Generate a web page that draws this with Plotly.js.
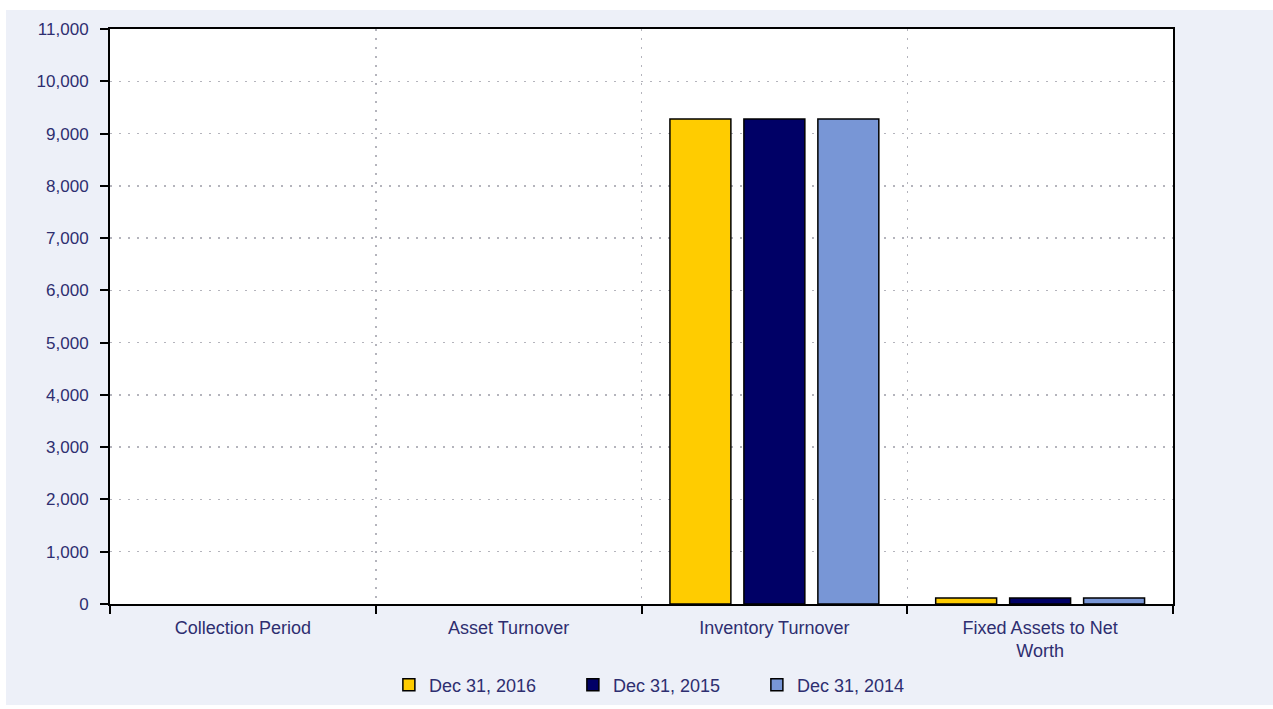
<!DOCTYPE html>
<html>
<head>
<meta charset="utf-8">
<script src="https://cdn.plot.ly/plotly-3.0.1.min.js"></script>
<style>
  html, body { margin: 0; padding: 0; background: #ffffff; }
  #chart { position: absolute; left: 6px; top: 10px; width: 1267px; height: 695px; }
</style>
</head>
<body>
<div id="chart"></div>
<script>
// ---- Data ----
var categories = ["Collection Period", "Asset Turnover", "Inventory Turnover", "Fixed Assets to Net<br>Worth"];
var seriesNames = ["Dec 31, 2016", "Dec 31, 2015", "Dec 31, 2014"];
var values2016 = [null, null, 9280, 115];
var values2015 = [null, null, 9280, 115];
var values2014 = [null, null, 9280, 115];
var yTickVals = [0, 1000, 2000, 3000, 4000, 5000, 6000, 7000, 8000, 9000, 10000, 11000];

// ---- Styles ----
var colors = ["#FFCC00", "#000066", "#7896D6"];
var textColor = "#2E2E70";
var allValues = [values2016, values2015, values2014];

var traces = seriesNames.map(function (name, i) {
  return {
    type: "bar",
    name: name,
    x: categories,
    y: allValues[i],
    marker: { color: colors[i], line: { color: "#000000", width: 1.5 } },
    hoverinfo: "x+y+name"
  };
});

var layout = {
  width: 1267,
  height: 695,
  paper_bgcolor: "#EDF0F8",
  plot_bgcolor: "#FFFFFF",
  margin: { l: 104, r: 100, t: 19, b: 101, autoexpand: false },
  barmode: "group",
  bargap: 0.165,
  bargroupgap: 0.176,
  font: { family: "Liberation Sans, Arial, sans-serif", size: 17, color: textColor },
  showlegend: true,
  legend: {
    orientation: "h",
    x: 0.522,
    xanchor: "center",
    y: -0.141,
    yanchor: "middle",
    entrywidth: 139,
    entrywidthmode: "pixels",
    font: { size: 18, color: textColor },
    bgcolor: "rgba(0,0,0,0)",
    traceorder: "normal"
  },
  xaxis: {
    type: "category",
    tickson: "boundaries",
    ticks: "outside",
    ticklen: 8,
    tickwidth: 2,
    tickcolor: "#000000",
    showline: true,
    linecolor: "#000000",
    linewidth: 2,
    mirror: true,
    showgrid: true,
    gridcolor: "#B4B4BC",
    griddash: "2px,7px",
    gridwidth: 1.5,
    tickfont: { size: 18, color: textColor },
    ticklabelstandoff: 6,
    fixedrange: true
  },
  yaxis: {
    range: [0, 11000],
    tickvals: yTickVals,
    tickformat: ",d",
    ticks: "outside",
    ticklen: 8,
    tickwidth: 2,
    tickcolor: "#000000",
    showline: true,
    linecolor: "#000000",
    linewidth: 2,
    mirror: true,
    showgrid: true,
    gridcolor: "#B4B4BC",
    griddash: "2px,7px",
    gridwidth: 1.5,
    zeroline: false,
    tickfont: { size: 17, color: textColor },
    ticklabelstandoff: 8,
    fixedrange: true
  }
};

Plotly.newPlot("chart", traces, layout, { displayModeBar: false, staticPlot: true });
</script>
</body>
</html>
